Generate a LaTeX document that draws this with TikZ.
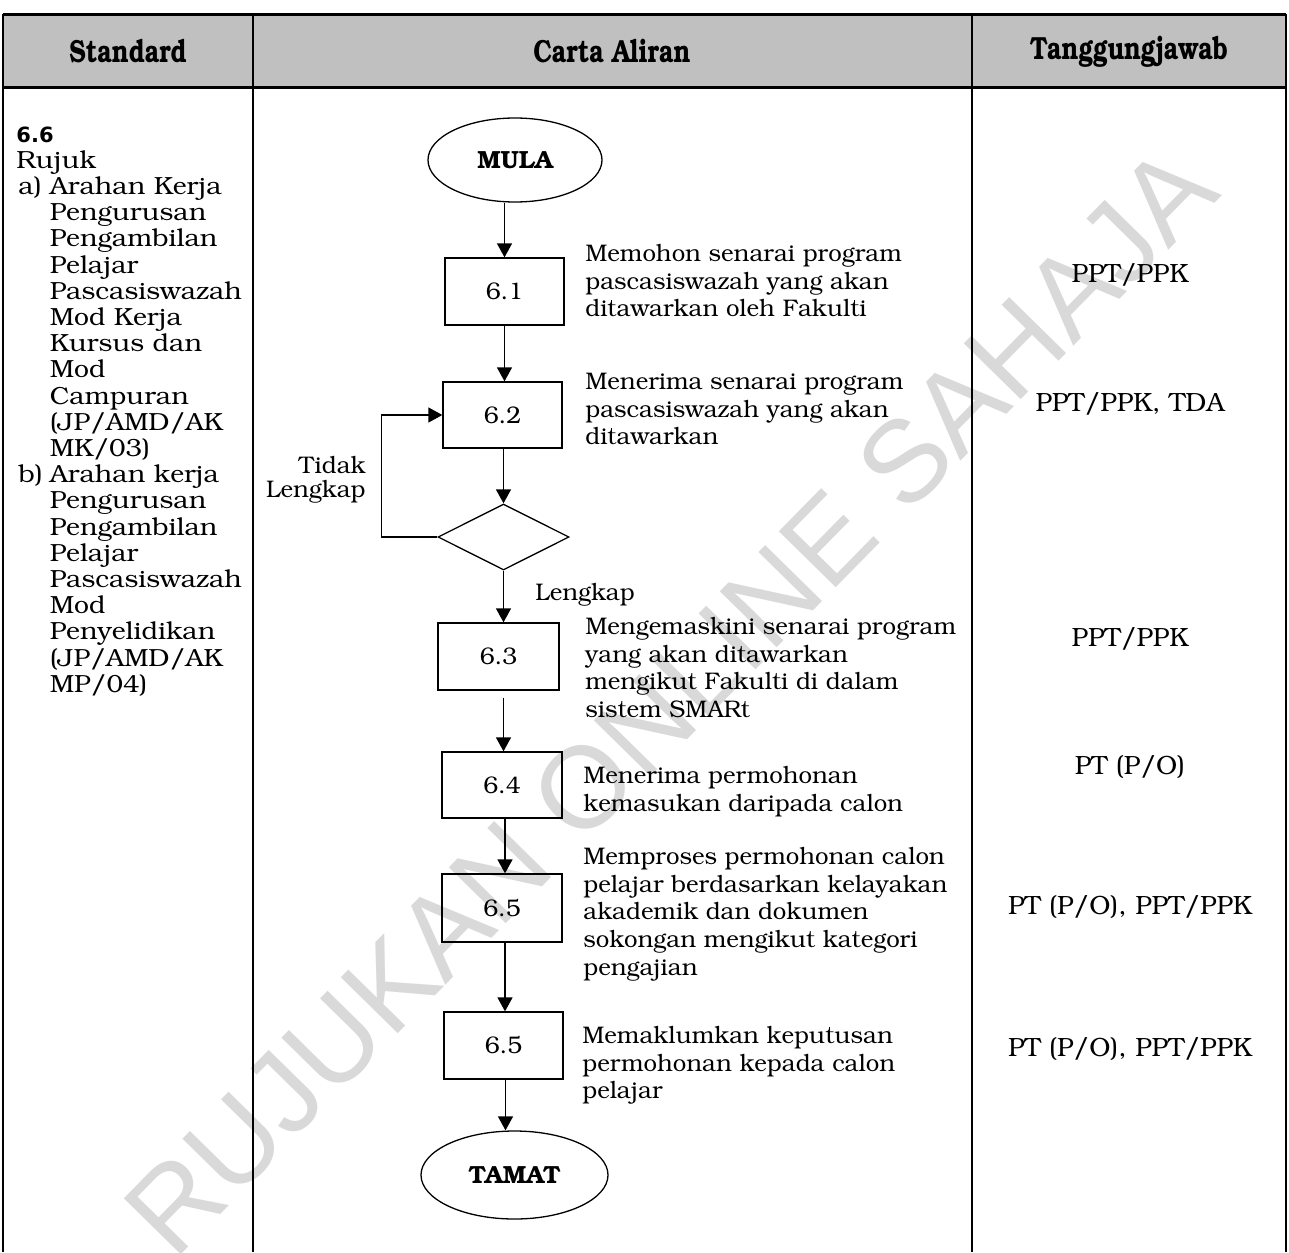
\documentclass[tikz,border=0pt]{standalone}
\usepackage[T1]{fontenc}
\usepackage{fontspec}
\newfontfamily\dvsans{DejaVu Sans}
\newfontfamily\wmfont{Liberation Sans}
\usetikzlibrary{arrows.meta,shapes.geometric}
\newcommand\bkf{\fontencoding{T1}\fontfamily{pbk}\fontseries{m}\fontshape{n}\fontsize{12}{13.9}\selectfont}
\newcommand\bkleft{\fontencoding{T1}\fontfamily{pbk}\fontseries{m}\fontshape{n}\fontsize{12.4}{13.1}\selectfont}
\newcommand\bkresp{\fontencoding{T1}\fontfamily{pbk}\fontseries{m}\fontshape{n}\fontsize{13.2}{15}\selectfont}
\newcommand\bkbold{\fontencoding{T1}\fontfamily{pbk}\fontseries{b}\fontshape{n}\fontsize{12.4}{14}\selectfont}
\newcommand\bkhead{\fontencoding{T1}\fontfamily{pbk}\fontseries{b}\fontshape{n}\fontsize{16}{18}\selectfont}
\newcommand\bklab{\fontencoding{T1}\fontfamily{pbk}\fontseries{m}\fontshape{n}\fontsize{12}{12}\selectfont}
\newcommand\sx[2]{\scalebox{#1}[1]{#2}}
\newcommand\ind{\hspace*{15.6pt}}
\newcommand\itm[1]{\hspace*{0.93pt}\makebox[14.67pt][l]{#1}}
\definecolor{hdrgray}{HTML}{C0C0C0}
\definecolor{wmgray}{HTML}{D9D9D9}
\tikzset{
  tbl/.style={line width=1pt},
  procbox/.style={draw, line width=0.65pt, inner sep=0pt, font=\bkf},
  termell/.style={draw, ellipse, line width=0.65pt, inner sep=0pt, font=\bkbold},
  decis/.style={draw, diamond, aspect=2, line width=0.65pt, inner sep=0pt, minimum width=65.5pt, minimum height=33pt},
  desc/.style={anchor=north west, inner sep=0pt, font=\bkf},
  resp/.style={anchor=base, inner sep=0pt, font=\bkresp},
  hdr/.style={inner sep=0pt, font=\bkhead},
  arr/.style={line width=0.65pt, -{Triangle[length=7pt,width=7.5pt]}}
}
\begin{document}
\begin{tikzpicture}[x=0.5pt,y=-0.5pt]
\useasboundingbox (0,0) rectangle (1289,1252);
\fill[white] (0,0) rectangle (1289,1252);
\fill[hdrgray] (3,15) rectangle (1286,88);
% watermark
\node[text=wmgray, font=\wmfont\fontsize{58}{64}\selectfont, rotate=45.5, inner sep=0pt] (wm) at (670,700) {RUJUKAN ONLINE SAHAJA};
% table
\draw[tbl] (3,1252) -- (3,15) -- (1286,15) -- (1286,1252);
\draw[line width=1.5pt] (3,15) -- (1286,15);
\draw[line width=1.5pt] (3,88) -- (1286,88);
\draw[tbl] (253,15) -- (253,1252);
\draw[tbl] (972,15) -- (972,1252);
% headers
\node[hdr] (h1) at (128,52) {\sx{0.78}{Standard}};
\node[hdr] (h2) at (612,52) {\sx{0.78}{Carta Aliran}};
\node[hdr] (h3) at (1129,52) {\sx{0.78}{Tanggungjawab}};
% left column
\node[anchor=north west, inner sep=0pt, font=\bkleft] (std) at (16,123.4) {\sx{1.07}{\begin{tabular}{@{}l@{}}
\sx{0.935}{\dvsans\bfseries\fontsize{10.5}{13.1}\selectfont 6.6}\\
Rujuk\\
\itm{a)}Arahan Kerja\\
\ind Pengurusan\\
\ind Pengambilan\\
\ind Pelajar\\
\ind Pascasiswazah\\
\ind Mod Kerja\\
\ind Kursus dan\\
\ind Mod\\
\ind Campuran\\
\ind (JP/AMD/AK\\
\ind MK/03)\\
\itm{b)}Arahan kerja\\
\ind Pengurusan\\
\ind Pengambilan\\
\ind Pelajar\\
\ind Pascasiswazah\\
\ind Mod\\
\ind Penyelidikan\\
\ind (JP/AMD/AK\\
\ind MP/04)
\end{tabular}}};
% flowchart
\node[termell, minimum width=87pt, minimum height=42pt] (mula) at (515,160) {MULA};
\node[procbox, minimum width=59.5pt, minimum height=33.5pt] (b61) at (504.5,291.5) {6.1};
\node[procbox, minimum width=59.5pt, minimum height=33pt] (b62) at (502.5,415) {6.2};
\node[decis] (dec) at (503.5,537) {};
\node[procbox, minimum width=60.5pt, minimum height=33.5pt] (b63) at (498.5,656.5) {6.3};
\node[procbox, minimum width=60pt, minimum height=33pt] (b64) at (502,785) {6.4};
\node[procbox, minimum width=60pt, minimum height=34pt] (b65) at (502,908) {6.5};
\node[procbox, minimum width=59.5pt, minimum height=33.5pt] (b66) at (503.5,1045.5) {6.5};
\node[termell, minimum width=93.5pt, minimum height=44pt] (tamat) at (514.5,1175) {TAMAT};
% connectors
\draw[arr] (b61.north |- mula.south) -- (b61.north);
\draw[arr] (b61.south) -- (b62.north -| b61.south);
\draw[arr] (dec.north |- b62.south) -- (dec.north);
\draw[arr] (dec.south) -- (dec.south |- b63.north);
\draw[arr] ([yshift=-3.5pt]b63.south -| dec.south) -- (dec.south |- b64.north);
\draw[arr] ([xshift=1.5pt]b64.south) -- ([xshift=1.5pt]b64.south |- b65.north);
\draw[arr] ([xshift=1.5pt]b65.south) -- ([xshift=1.5pt]b65.south |- b66.north);
\draw[arr] ([xshift=1pt]b66.south) -- ([xshift=1pt]b66.south |- tamat.north);
\draw[arr] (dec.west) -- ++(-56,0) |- (b62.west);
% labels
\node[anchor=east, inner sep=0pt, font=\bklab] (tl) at (366,481) {\begin{tabular}{@{}r@{}}Tidak\\Lengkap\end{tabular}};
\node[anchor=west, inner sep=0pt, font=\bkf] (ll) at (535,595) {Lengkap};
% descriptions
\node[desc] (d61) at (585,241.5) {\begin{tabular}{@{}l@{}}Memohon senarai program\\pascasiswazah yang akan\\ditawarkan oleh Fakulti\end{tabular}};
\node[desc] (d62) at (585,369.5) {\begin{tabular}{@{}l@{}}Menerima senarai program\\pascasiswazah yang akan\\ditawarkan\end{tabular}};
\node[desc] (d63) at (585,614.5) {\begin{tabular}{@{}l@{}}Mengemaskini senarai program\\yang akan ditawarkan\\mengikut Fakulti di dalam\\sistem SMARt\end{tabular}};
\node[desc] (d64) at (583,763.5) {\begin{tabular}{@{}l@{}}Menerima permohonan\\kemasukan daripada calon\end{tabular}};
\node[desc] (d65) at (583,844.5) {\begin{tabular}{@{}l@{}}Memproses permohonan calon\\pelajar berdasarkan kelayakan\\akademik dan dokumen\\sokongan mengikut kategori\\pengajian\end{tabular}};
\node[desc] (d66) at (582,1023.5) {\begin{tabular}{@{}l@{}}Memaklumkan keputusan\\permohonan kepada calon\\pelajar\end{tabular}};
% responsibilities
\node[resp] (r1) at (1130,282) {PPT/PPK};
\node[resp] (r2) at (1130,411) {PPT/PPK, TDA};
\node[resp] (r3) at (1130,646) {PPT/PPK};
\node[resp] (r4) at (1130,774) {PT (P/O)};
\node[resp] (r5) at (1130,914) {PT (P/O), PPT/PPK};
\node[resp] (r6) at (1130,1056) {PT (P/O), PPT/PPK};
\end{tikzpicture}
\end{document}
